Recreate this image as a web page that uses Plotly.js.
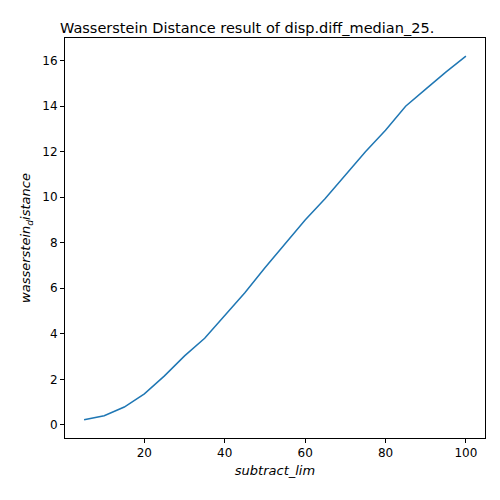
<!DOCTYPE html>
<html>
<head>
<script src="https://cdn.plot.ly/plotly-3.0.1.min.js"></script>
<style>body{margin:0}#chart{width:500px;height:500px}</style>
</head>
<body>
<div id="chart"></div>
<script>
// values
const subtractLim = [5,10,15,20,25,30,35,40,45,50,55,60,65,70,75,80,85,90,95,100];
const wDist = [0.22,0.4,0.78,1.36,2.15,3.03,3.8,4.8,5.8,6.9,7.95,9.0,9.95,10.95,12.0,12.95,14.0,14.75,15.5,16.2];

const trace = {
    x: subtractLim, y: wDist, type: 'scatter', mode: 'lines',
    line: {color: '#1f77b4', width: 1.5}
};

const axis = {
    showgrid: false, zeroline: false, showline: true, mirror: true,
    linecolor: 'black', linewidth: 1, ticks: 'outside', ticklen: 4,
    tickcolor: 'black', tickfont: {size: 12, color: 'black'}
};

const layout = {
    width: 500, height: 500,
    margin: {l: 65, r: 15, t: 38, b: 62},
    paper_bgcolor: 'white', plot_bgcolor: 'white',
    font: {family: 'DejaVu Sans', color: 'black'},
    showlegend: false,
    title: {text: 'Wasserstein Distance result of disp.diff_median_25.', x: 0.12, xanchor: 'left', y: 0.955, font: {size: 14.5}},
    xaxis: Object.assign({}, axis, {range: [0.25, 104.75], tickvals: [20,40,60,80,100],
        title: {text: '<i>subtract_lim</i>', font: {size: 13}, standoff: 6}}),
    yaxis: Object.assign({}, axis, {range: [-0.58, 17.0], tickvals: [0,2,4,6,8,10,12,14,16],
        title: {text: '<i>wasserstein<sub>d</sub>istance</i>', font: {size: 13}, standoff: 8}})
};

Plotly.newPlot('chart', [trace], layout, {displayModeBar: false});
</script>
</body>
</html>
